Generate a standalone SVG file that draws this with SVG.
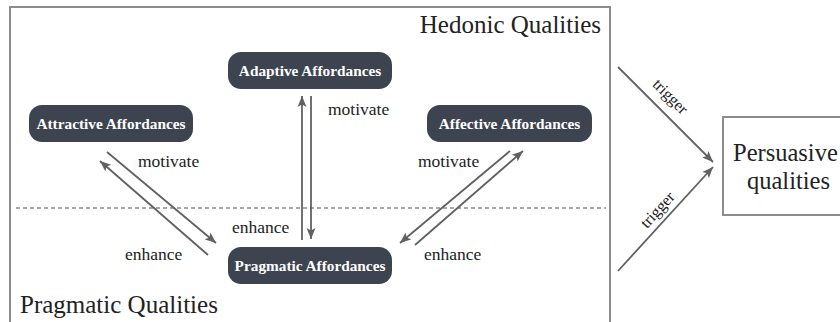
<svg xmlns="http://www.w3.org/2000/svg" width="840" height="322" viewBox="0 0 840 322">
<style>
.frame{fill:none;stroke:#8a8d8c;stroke-width:2}
.node rect{fill:#3d4450}
.node text{fill:#ffffff;font-family:'Liberation Serif','Times New Roman',Tinos,'DejaVu Serif',serif;font-weight:bold;font-size:15.3px;text-anchor:middle}
.lbl{fill:#222;font-family:'Liberation Serif','Times New Roman',Tinos,'DejaVu Serif',serif;font-size:17.5px}
.big{fill:#222;font-family:'Liberation Serif','Times New Roman',Tinos,'DejaVu Serif',serif;font-size:25px}
.conn line{stroke:#5f6163;stroke-width:1.8;marker-end:url(#ah)}
</style>
<defs>
<marker id="ah" markerUnits="userSpaceOnUse" markerWidth="12" markerHeight="10" refX="11" refY="5" orient="auto">
<path d="M0,0.5 L11,5 L0,9.5 L2.5,5 Z" fill="#5f6163"/>
</marker>
</defs>
<rect width="840" height="322" fill="#ffffff"/>
<path class="frame" d="M10,330 V7 H610 V330"/>
<line x1="16" y1="208" x2="606" y2="208" stroke="#8a8d8c" stroke-width="1.5" stroke-dasharray="4 3"/>
<text class="big" x="601" y="33" text-anchor="end">Hedonic Qualities</text>
<text class="big" x="20" y="313">Pragmatic Qualities</text>

<g id="adaptive" class="node"><rect x="228" y="52" width="164" height="37" rx="13"/><text x="310" y="76">Adaptive Affordances</text></g>
<g id="attractive" class="node"><rect x="29" y="105" width="164" height="37" rx="13"/><text x="111" y="129">Attractive Affordances</text></g>
<g id="affective" class="node"><rect x="427" y="105" width="165" height="37" rx="13"/><text x="509.5" y="129">Affective Affordances</text></g>
<g id="pragmatic" class="node"><rect x="228" y="247" width="164" height="37" rx="13"/><text x="310" y="271">Pragmatic Affordances</text></g>

<g id="persuasive">
<rect x="723" y="117" width="130" height="98" fill="#fff" stroke="#8a8d8c" stroke-width="2"/>
<text class="big" x="733" y="161" style="font-size:24.5px">Persuasive</text>
<text class="big" x="747" y="189" style="font-size:24.5px">qualities</text>
</g>

<g id="connectors" class="conn">
<line x1="302" y1="240" x2="302" y2="96"/>
<line x1="311" y1="96" x2="311" y2="239"/>
<line x1="107" y1="152" x2="216" y2="243"/>
<line x1="208" y1="255" x2="100" y2="161"/>
<line x1="510" y1="151" x2="400" y2="243"/>
<line x1="415" y1="245" x2="523" y2="151"/>
<line x1="618" y1="67" x2="713" y2="162"/>
<line x1="618" y1="271" x2="713" y2="167"/>
</g>

<g id="labels">
<text class="lbl" x="328" y="115">motivate</text>
<text class="lbl" x="232" y="233">enhance</text>
<text class="lbl" x="138" y="167">motivate</text>
<text class="lbl" x="125" y="260">enhance</text>
<text class="lbl" x="418" y="167">motivate</text>
<text class="lbl" x="424" y="260">enhance</text>
<text class="lbl" style="font-size:16px" text-anchor="middle" transform="translate(659,108) rotate(45)" x="0" y="-11">trigger</text>
<text class="lbl" style="font-size:16px" text-anchor="middle" transform="translate(666.5,218) rotate(-47.6)" x="0" y="-7">trigger</text>
</g>
</svg>
